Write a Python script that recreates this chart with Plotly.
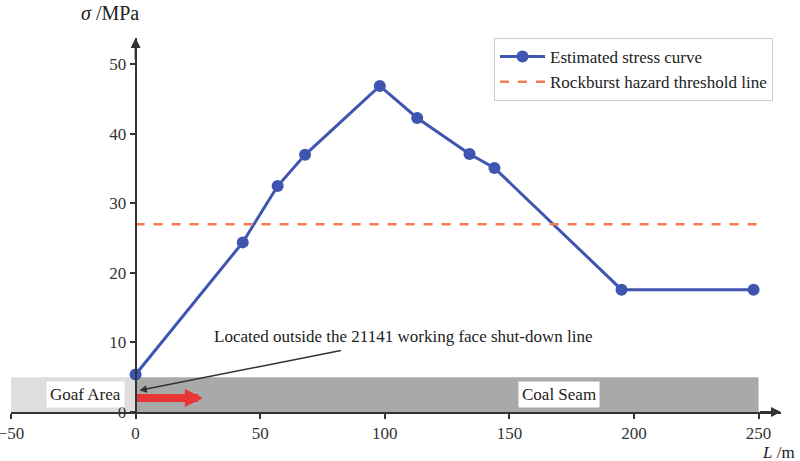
import plotly.graph_objects as go

# Data
L_vals = [0, 43, 57, 68, 98, 113, 134, 144, 195, 248]
sigma_vals = [5.4, 24.4, 32.5, 37.0, 46.9, 42.3, 37.1, 35.1, 17.6, 17.6]
thr_x = [0, 250]
thr_y = [27.0, 27.0]
x_ticks = [-50, 0, 50, 100, 150, 200, 250]
y_ticks = [0, 10, 20, 30, 40, 50]
seam_top = 5.0
goaf_range = [-50, 0]
coal_range = [0, 250]

SERIF = "Liberation Serif"
BLUE = "#3f55b0"
ORANGE = "#f77a55"
DARK = "#333333"
TXT = "#222222"

fig = go.Figure()
fig.add_trace(go.Scatter(x=L_vals, y=sigma_vals, mode="lines+markers",
                         name="Estimated stress curve",
                         line=dict(color=BLUE, width=3),
                         marker=dict(color=BLUE, size=12)))
fig.add_trace(go.Scatter(x=thr_x, y=thr_y, mode="lines",
                         name="Rockburst hazard threshold line",
                         line=dict(color=ORANGE, width=2.5, dash="dash")))

fig.add_shape(type="rect", x0=goaf_range[0], x1=goaf_range[1], y0=0, y1=seam_top,
              fillcolor="#dedede", line=dict(width=0), layer="below")
fig.add_shape(type="rect", x0=coal_range[0], x1=coal_range[1], y0=0, y1=seam_top,
              fillcolor="#a9a9a9", line=dict(width=0), layer="below")

ann = []
# axis arrows
ann.append(dict(x=259, y=0, ax=250, ay=0, xref="x", yref="y", axref="x", ayref="y",
                text="", showarrow=True, arrowhead=2, arrowsize=1, arrowwidth=2, arrowcolor=DARK))
ann.append(dict(x=0, y=53.8, ax=0, ay=50.5, xref="x", yref="y", axref="x", ayref="y",
                text="", showarrow=True, arrowhead=2, arrowsize=1, arrowwidth=2, arrowcolor=DARK))
# red arrow
ann.append(dict(x=27, y=2.0, ax=0, ay=2.0, xref="x", yref="y", axref="x", ayref="y",
                text="", showarrow=True, arrowhead=2, arrowsize=0.45, arrowwidth=8, arrowcolor="#e83535"))
# black pointer arrow
ann.append(dict(x=1.5, y=3.1, ax=83, ay=8.9, xref="x", yref="y", axref="x", ayref="y",
                text="", showarrow=True, arrowhead=2, arrowsize=1, arrowwidth=1.5, arrowcolor=DARK))
ann.append(dict(x=107.3, y=10.8, xref="x", yref="y", showarrow=False,
                text="Located outside the 21141 working face shut-down line",
                font=dict(family=SERIF, size=17, color=TXT)))
ann.append(dict(x=-20.3, y=2.5, xref="x", yref="y", showarrow=False, text="Goaf Area",
                bgcolor="white", borderpad=3, font=dict(family=SERIF, size=17, color=TXT)))
ann.append(dict(x=170, y=2.5, xref="x", yref="y", showarrow=False, text="Coal Seam",
                bgcolor="white", borderpad=3, font=dict(family=SERIF, size=17, color=TXT)))
ann.append(dict(x=0.1286, y=1.068, xref="paper", yref="paper", showarrow=False,
                xanchor="center", yanchor="middle",
                text="<i>σ</i> /MPa", font=dict(family=SERIF, size=20, color=TXT)))
ann.append(dict(x=0.997, y=-0.107, xref="paper", yref="paper", showarrow=False,
                xanchor="center", yanchor="middle",
                text="<i>L</i> /m", font=dict(family=SERIF, size=17, color=TXT)))

fig.update_layout(
    width=800, height=461,
    margin=dict(l=11, r=19, t=38, b=49, autoexpand=False),
    plot_bgcolor="white", paper_bgcolor="white",
    showlegend=True,
    legend=dict(x=0.9896, y=1.0, xanchor="right", yanchor="top",
                bordercolor="#cccccc", borderwidth=1, bgcolor="white",
                itemwidth=45,
                font=dict(family=SERIF, size=17, color=TXT)),
    annotations=ann,
    xaxis=dict(range=[-50, 259], showgrid=False, zeroline=False, showline=True,
               linecolor=DARK, linewidth=2, ticks="outside", ticklen=5, tickwidth=2,
               tickcolor=DARK, tickvals=x_ticks, ticklabeloverflow="allow", automargin=False,
               tickfont=dict(family=SERIF, size=17, color=DARK)),
    yaxis=dict(range=[0, 53.8], showgrid=False, zeroline=False, showline=True,
               linecolor=DARK, linewidth=2, ticks="outside", ticklen=5, tickwidth=2,
               tickcolor=DARK, tickvals=y_ticks, anchor="free", position=50/309,
               ticklabeloverflow="allow", automargin=False,
               tickfont=dict(family=SERIF, size=17, color=DARK)),
)

fig.write_html("out.html")
